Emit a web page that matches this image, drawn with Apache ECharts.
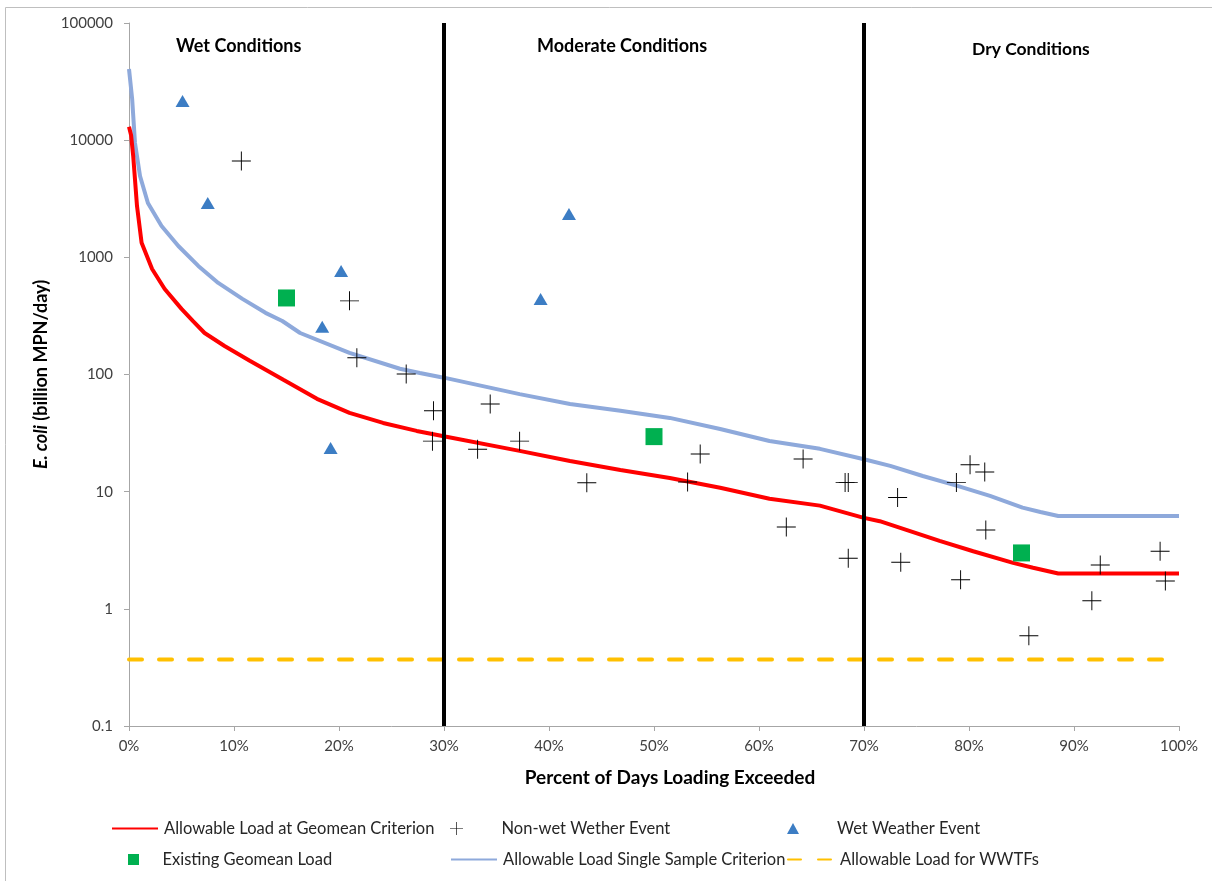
<!DOCTYPE html>
<html>
<head>
<meta charset="utf-8">
<script src="https://cdn.jsdelivr.net/npm/echarts@6/dist/echarts.min.js"></script>
<style>
html,body{margin:0;padding:0;background:#fff;}
#chart{width:1212px;height:881px;}
</style>
</head>
<body>
<div id="chart"></div>
<script>
// Percent of days exceeded (x) and E. coli load in billion MPN/day (y)
const geomeanCurve = [[0,13000],[0.2,11000],[0.4,7330],[0.76,2750],[1.2,1330],[2.2,796],[3.4,537],[5.0,363],[6.1,285],[7.2,226],[9.1,175],[11.5,131],[14.7,90],[17.9,62],[21,47],[24.2,38.6],[27.4,33],[30.1,29.6],[37.2,22.3],[42,18.3],[46.8,15.3],[51.5,13.1],[56.3,10.8],[61,8.7],[65.8,7.6],[69.9,6.0],[71.5,5.6],[74.1,4.7],[77.2,3.8],[80.4,3.1],[84.2,2.47],[86.1,2.24],[88.5,2.0],[100,2.0]];
const singleSampleCurve = [[0,40500],[0.3,22500],[0.57,9460],[1.05,4950],[1.8,2910],[3.1,1853],[4.7,1250],[6.6,845],[8.5,605],[10.8,442],[13,336],[14.6,286],[16.3,226],[21,153],[25.8,112],[27.7,103],[30.1,93.5],[37.2,68],[42,56],[46.8,49],[51.5,42.6],[56.3,34.3],[61,27.1],[65.8,23.2],[69.9,19.0],[72.5,16.6],[75.6,13.6],[78.9,11.2],[82,9.2],[85.1,7.3],[86.8,6.7],[88.5,6.2],[100,6.2]];
const wwtfLoad = [[0,0.37],[100,0.37]];
const nonWetEvents = [[10.7,6650],[21.0,425],[21.7,139],[26.4,101],[29.0,49],[28.9,27],[34.4,56],[33.2,23],[37.2,27],[43.6,11.9],[54.4,21],[53.2,12.1],[64.2,19],[62.6,5.0],[68.2,12],[68.5,12],[68.5,2.7],[73.2,8.9],[73.5,2.5],[78.8,12],[80.1,17],[81.5,14.7],[81.6,4.7],[79.2,1.77],[85.7,0.59],[92.5,2.37],[91.7,1.17],[98.2,3.1],[98.7,1.73]];
const wetEvents = [[5.1,21600],[7.5,2910],[20.2,765],[18.4,255],[19.2,23.6],[39.2,442],[41.9,2345]];
const existingGeomean = [[15.0,450],[50.0,29.5],[85.0,3.0]];
const flowBreaks = [30, 70];
const regionLabels = ['Wet Conditions', 'Moderate Conditions', 'Dry Conditions'];
const xTickLabels = ['0%','10%','20%','30%','40%','50%','60%','70%','80%','90%','100%'];
const seriesNames = ['Allowable Load at Geomean Criterion','Non-wet Wether Event','Wet Weather Event','Existing Geomean Load','Allowable Load Single Sample Criterion','Allowable Load for WWTFs'];

const FONT = 'Lato, "Liberation Sans", sans-serif';
const crossPath = 'path://M0,9.5 H20 V10.5 H0 Z M9.5,0 H10.5 V20 H9.5 Z';
const triPath = 'path://M6,0 L12,11 L0,11 Z';
const sqPath = 'path://M0,0 H10 V10 H0 Z';

const chart = echarts.init(document.getElementById('chart'), null, {renderer:'canvas'});

function legendAt(item, left, top, iconH, padLeft) {
  return {
    data: [item], left: left, top: top, orient: 'horizontal',
    itemWidth: 46, itemHeight: iconH || 14, itemGap: 0, padding: 0,
    symbolKeepAspect: true,
    textStyle: {fontFamily: FONT, fontSize: 16.5, color: '#262626', padding: [0,0,0,padLeft || 1]},
    selectedMode: false
  };
}
const noSymbol = {opacity: 0};

const option = {
  backgroundColor: '#fff',
  animation: false,
  grid: {left: 129, right: 33, top: 23, bottom: 155, containLabel: false},
  xAxis: {
    type: 'value', min: 0, max: 100, interval: 10,
    name: 'Percent of Days Loading Exceeded', nameLocation: 'middle', nameGap: 42,
    nameTextStyle: {fontFamily: FONT, fontSize: 19, fontWeight: 'bold', color: '#000', padding: [0,0,0,32]},
    axisLine: {lineStyle: {color: '#A6A6A6', width: 1}},
    axisTick: {show: true, length: 5, lineStyle: {color: '#A6A6A6'}},
    axisLabel: {fontFamily: FONT, fontSize: 15, color: '#404040', margin: 13,
      formatter: function (v) { return xTickLabels[Math.round(v / 10)]; }},
    splitLine: {show: false}
  },
  yAxis: {
    type: 'log', logBase: 10, min: 0.1, max: 100000,
    name: '{i|E. coli} (billion MPN/day)', nameLocation: 'middle', nameGap: 78, nameRotate: 90,
    nameTextStyle: {fontFamily: FONT, fontSize: 18, fontWeight: 'bold', color: '#000',
      rich: {i: {fontFamily: FONT, fontSize: 18, fontWeight: 'bold', fontStyle: 'italic', color: '#000'}}},
    axisLine: {show: true, lineStyle: {color: '#A6A6A6', width: 1}},
    axisTick: {show: true, length: 5, lineStyle: {color: '#A6A6A6'}},
    axisLabel: {fontFamily: FONT, fontSize: 15, color: '#404040', margin: 16,
      formatter: function (v) { return String(+v.toPrecision(6)); }},
    splitLine: {show: false}
  },
  legend: [
    legendAt({name: seriesNames[0], itemStyle: noSymbol}, 111, 820),
    legendAt({name: seriesNames[1], icon: crossPath}, 450, 820, 13, 17),
    legendAt({name: seriesNames[2], icon: triPath}, 787, 820, 11, 16),
    legendAt({name: seriesNames[3], icon: sqPath}, 128, 851, 11),
    legendAt({name: seriesNames[4], itemStyle: noSymbol}, 450, 851),
    legendAt({name: seriesNames[5], itemStyle: noSymbol}, 787, 851)
  ],
  graphic: [
    {type: 'rect', left: 3, top: 5, silent: true, z: -10,
      shape: {width: 1240, height: 900}, style: {fill: 'none', stroke: '#BFBFBF', lineWidth: 1}},
    {type: 'text', left: 176, top: 37, style: {text: regionLabels[0], font: 'bold 18px ' + FONT, fill: '#000'}},
    {type: 'text', left: 537, top: 37, style: {text: regionLabels[1], font: 'bold 18px ' + FONT, fill: '#000'}},
    {type: 'text', left: 972, top: 40, style: {text: regionLabels[2], font: 'bold 17.5px ' + FONT, fill: '#000'}}
  ],
  series: [
    {
      name: seriesNames[5], type: 'line', data: wwtfLoad, showSymbol: false, z: 2,
      lineStyle: {color: '#FFC000', width: 4, type: [13, 17], cap: 'round'},
      itemStyle: {color: '#FFC000'},
      markLine: {
        silent: true, symbol: 'none', label: {show: false},
        lineStyle: {color: '#000', width: 4, type: 'solid'},
        data: flowBreaks.map(function (v) { return {xAxis: v}; })
      }
    },
    {
      name: seriesNames[4], type: 'line', data: singleSampleCurve, showSymbol: false, z: 3,
      lineStyle: {color: '#8EA9DB', width: 4}, itemStyle: {color: '#8EA9DB'}
    },
    {
      name: seriesNames[0], type: 'line', data: geomeanCurve, showSymbol: false, z: 4,
      lineStyle: {color: '#FF0000', width: 4}, itemStyle: {color: '#FF0000'}
    },
    {
      name: seriesNames[1], type: 'scatter', data: nonWetEvents, symbol: crossPath, symbolSize: 19, z: 6,
      itemStyle: {color: '#000', opacity: 1}
    },
    {
      name: seriesNames[2], type: 'scatter', data: wetEvents, symbol: 'triangle', symbolSize: [14, 12], z: 6,
      itemStyle: {color: '#3C7DC4', opacity: 1}
    },
    {
      name: seriesNames[3], type: 'scatter', data: existingGeomean, symbol: 'rect', symbolSize: 17, z: 6,
      itemStyle: {color: '#00B050', opacity: 1}
    }
  ]
};
chart.setOption(option);
</script>
</body>
</html>
